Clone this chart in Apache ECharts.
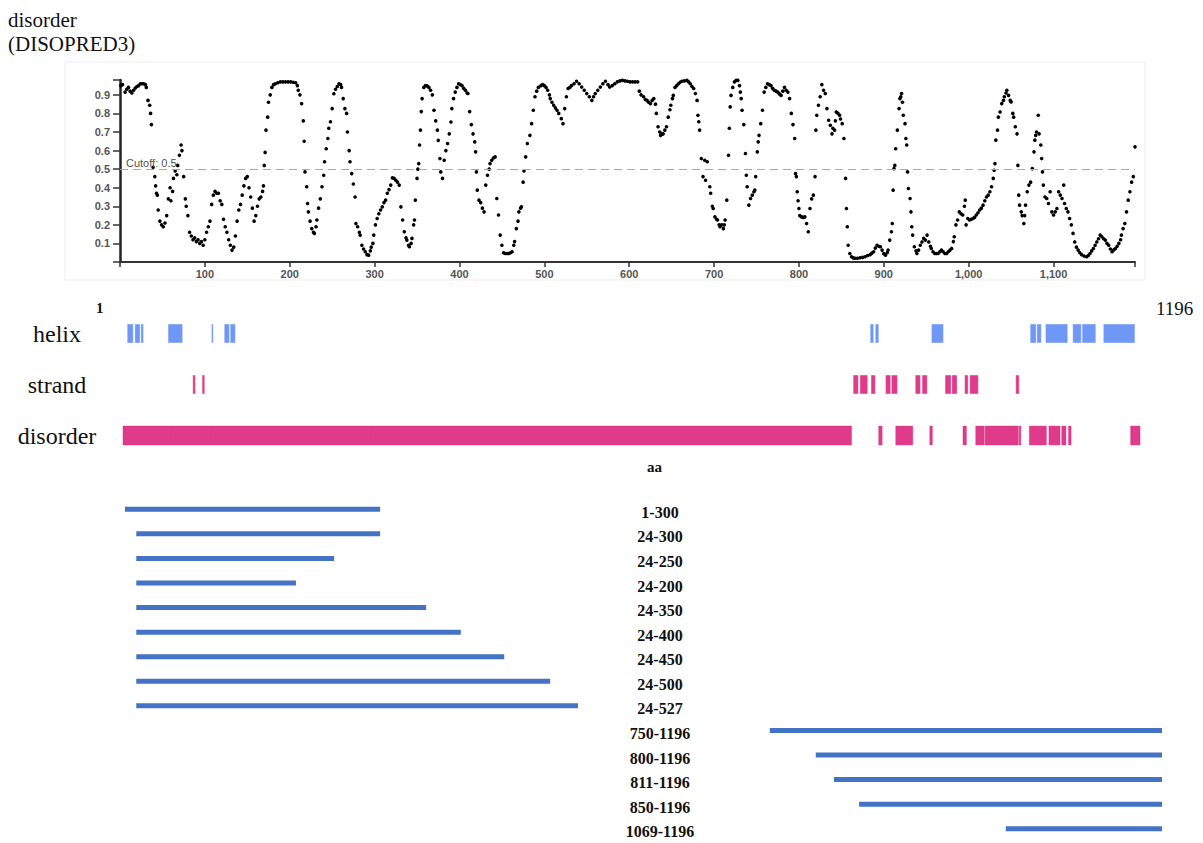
<!DOCTYPE html>
<html>
<head>
<meta charset="utf-8">
<title>disorder (DISOPRED3)</title>
<script src="https://cdn.jsdelivr.net/npm/echarts/dist/echarts.min.js"></script>
<style>
  html, body { margin: 0; padding: 0; background: #ffffff; }
  #chart { width: 1203px; height: 843px; }
</style>
</head>
<body>
<div id="chart"></div>
<script>
// DISOPRED3 disorder score per residue [residue, score]
var disorderScores = [
  [1,0.95],[3,0.955],[6,0.915],[8,0.93],[10,0.94],[12,0.92],[14,0.91],[16,0.925],[18,0.937],[20,0.945],
  [22,0.95],[24,0.96],[26,0.96],[28,0.96],[30,0.955],[31,0.94],[33,0.87],[35,0.844],[36,0.8],[37,0.74],
  [39,0.51],[41,0.46],[42,0.41],[43,0.37],[44,0.36],[45,0.28],[47,0.22],[49,0.2],[51,0.19],[53,0.21],
  [55,0.25],[57,0.34],[59,0.4],[60,0.33],[62,0.38],[63,0.45],[65,0.49],[67,0.47],[68,0.52],[70,0.575],
  [72,0.63],[73,0.6],[75,0.46],[77,0.34],[78,0.3],[80,0.25],[82,0.16],[84,0.14],[86,0.12],[88,0.13],
  [90,0.11],[92,0.12],[94,0.1],[96,0.11],[98,0.09],[100,0.12],[102,0.16],[104,0.19],[106,0.22],[108,0.31],
  [110,0.36],[112,0.38],[114,0.37],[116,0.37],[118,0.33],[120,0.31],[122,0.23],[124,0.19],[126,0.16],[128,0.12],
  [130,0.09],[132,0.064],[134,0.08],[136,0.14],[138,0.22],[140,0.28],[142,0.31],[144,0.36],[146,0.41],[148,0.45],
  [150,0.46],[152,0.4],[154,0.35],[156,0.29],[158,0.22],[160,0.25],[162,0.3],[164,0.34],[166,0.35],[168,0.38],
  [169,0.41],[170,0.52],[171,0.59],[172,0.71],[174,0.78],[175,0.86],[177,0.9],[179,0.94],[181,0.955],[183,0.96],
  [186,0.965],[189,0.97],[192,0.97],[195,0.97],[198,0.97],[201,0.97],[204,0.968],[207,0.965],[209,0.95],[210,0.925],
  [212,0.9],[214,0.853],[216,0.76],[217,0.65],[218,0.485],[220,0.405],[221,0.315],[222,0.27],[224,0.22],[226,0.18],
  [228,0.16],[229,0.154],[231,0.19],[232,0.226],[234,0.29],[236,0.34],[238,0.405],[240,0.467],[241,0.54],[243,0.61],
  [245,0.665],[246,0.72],[248,0.755],[250,0.826],[252,0.906],[254,0.93],[256,0.945],[258,0.96],[260,0.955],[261,0.94],
  [263,0.88],[265,0.826],[267,0.8],[268,0.7],[270,0.6],[271,0.54],[273,0.476],[275,0.42],[277,0.35],[278,0.207],
  [280,0.19],[282,0.16],[283,0.145],[285,0.09],[287,0.07],[289,0.055],[291,0.04],[293,0.037],[295,0.06],[296,0.08],
  [298,0.1],[299,0.145],[301,0.2],[303,0.234],[305,0.26],[307,0.28],[309,0.297],[311,0.32],[313,0.333],[315,0.37],
  [317,0.39],[319,0.414],[321,0.453],[323,0.45],[325,0.44],[327,0.43],[329,0.414],[331,0.297],[333,0.226],[335,0.163],
  [337,0.13],[338,0.118],[340,0.09],[341,0.082],[343,0.1],[344,0.127],[346,0.2],[347,0.226],[348,0.333],[350,0.45],
  [351,0.5],[352,0.53],[353,0.63],[354,0.71],[355,0.81],[356,0.88],[358,0.94],[360,0.95],[362,0.948],[364,0.94],
  [366,0.925],[368,0.9],[370,0.817],[372,0.76],[374,0.71],[375,0.655],[377,0.557],[378,0.485],[380,0.45],[382,0.548],
  [384,0.6],[386,0.638],[388,0.69],[390,0.754],[391,0.826],[393,0.88],[395,0.915],[397,0.94],[399,0.96],[401,0.955],
  [403,0.95],[405,0.935],[407,0.925],[409,0.91],[410,0.907],[412,0.81],[414,0.74],[416,0.69],[418,0.647],[419,0.593],
  [420,0.485],[421,0.387],[423,0.333],[425,0.32],[427,0.29],[429,0.27],[431,0.414],[433,0.467],[435,0.5],[436,0.53],
  [438,0.548],[440,0.56],[442,0.566],[444,0.342],[446,0.253],[448,0.145],[450,0.09],[452,0.05],[454,0.046],[456,0.046],
  [458,0.046],[460,0.05],[462,0.055],[464,0.09],[465,0.11],[467,0.18],[469,0.22],[470,0.27],[472,0.29],[473,0.297],
  [475,0.43],[476,0.49],[478,0.566],[480,0.638],[483,0.682],[485,0.745],[487,0.817],[489,0.89],[491,0.92],[493,0.94],
  [496,0.95],[498,0.955],[500,0.95],[502,0.94],[504,0.925],[506,0.9],[507,0.88],[509,0.86],[511,0.844],[513,0.83],
  [515,0.817],[517,0.8],[520,0.772],[522,0.745],[524,0.826],[526,0.89],[528,0.934],[530,0.94],[532,0.95],[535,0.96],
  [538,0.973],[541,0.96],[544,0.942],[547,0.925],[550,0.907],[553,0.89],[556,0.87],[558,0.89],[560,0.907],[563,0.925],
  [566,0.942],[569,0.96],[572,0.973],[575,0.955],[577,0.942],[580,0.95],[583,0.96],[586,0.97],[589,0.975],[592,0.978],
  [595,0.975],[598,0.973],[601,0.97],[604,0.97],[607,0.97],[610,0.97],[612,0.92],[614,0.9],[617,0.89],[619,0.875],
  [621,0.87],[623,0.86],[625,0.853],[627,0.87],[629,0.88],[631,0.85],[632,0.8],[634,0.728],[636,0.7],[637,0.682],
  [639,0.69],[640,0.69],[642,0.71],[644,0.728],[646,0.78],[648,0.82],[649,0.844],[651,0.88],[652,0.897],[654,0.94],
  [656,0.95],[658,0.96],[660,0.968],[662,0.973],[665,0.975],[668,0.978],[670,0.97],[672,0.96],[674,0.945],[676,0.934],
  [678,0.907],[680,0.87],[681,0.79],[682,0.755],[683,0.71],[685,0.557],[687,0.46],[689,0.548],[690,0.44],[692,0.54],
  [695,0.405],[696,0.37],[698,0.3],[699,0.288],[701,0.243],[703,0.23],[704,0.226],[706,0.2],[707,0.19],[709,0.2],
  [711,0.18],[712,0.2],[713,0.226],[715,0.333],[717,0.575],[718,0.72],[719,0.835],[720,0.897],[722,0.94],[724,0.97],
  [726,0.978],[728,0.978],[730,0.95],[731,0.915],[732,0.88],[733,0.817],[735,0.74],[737,0.584],[738,0.467],[739,0.405],
  [741,0.306],[743,0.342],[745,0.36],[747,0.378],[748,0.387],[749,0.46],[751,0.593],[752,0.647],[753,0.682],[755,0.745],
  [757,0.817],[759,0.915],[761,0.94],[763,0.96],[765,0.955],[767,0.95],[769,0.935],[771,0.925],[773,0.92],[775,0.915],
  [777,0.905],[779,0.897],[781,0.92],[783,0.94],[785,0.925],[787,0.915],[789,0.88],[791,0.8],[793,0.74],[795,0.665],
  [796,0.476],[797,0.46],[798,0.378],[799,0.33],[800,0.288],[801,0.25],[803,0.243],[805,0.24],[807,0.243],[809,0.207],
  [811,0.163],[813,0.288],[815,0.34],[817,0.36],[819,0.46],[820,0.71],[821,0.79],[823,0.844],[825,0.89],[827,0.955],
  [829,0.925],[831,0.907],[833,0.826],[835,0.763],[837,0.736],[839,0.69],[840,0.72],[842,0.71],[843,0.76],[844,0.808],
  [846,0.8],[848,0.79],[849,0.77],[851,0.745],[853,0.665],[855,0.45],[856,0.288],[857,0.19],[858,0.09],[860,0.046],
  [862,0.028],[864,0.022],[866,0.02],[869,0.02],[872,0.023],[875,0.025],[878,0.028],[881,0.035],[884,0.04],[886,0.048],
  [888,0.055],[890,0.075],[892,0.09],[894,0.085],[896,0.082],[898,0.064],[900,0.045],[902,0.037],[904,0.05],[905,0.064],
  [907,0.118],[909,0.163],[910,0.207],[911,0.387],[912,0.503],[913,0.52],[914,0.61],[916,0.71],[918,0.826],[919,0.88],
  [920,0.89],[921,0.907],[922,0.86],[923,0.79],[925,0.745],[926,0.665],[927,0.63],[928,0.485],[929,0.396],[931,0.342],
  [932,0.27],[933,0.19],[934,0.145],[936,0.082],[938,0.06],[939,0.046],[941,0.064],[943,0.09],[945,0.108],[947,0.127],
  [949,0.118],[951,0.145],[953,0.108],[955,0.085],[956,0.073],[958,0.055],[960,0.046],[962,0.046],[964,0.046],[966,0.055],
  [968,0.064],[970,0.055],[972,0.046],[974,0.046],[976,0.055],[978,0.064],[980,0.073],[982,0.11],[983,0.136],[985,0.2],
  [987,0.226],[989,0.27],[991,0.26],[993,0.253],[995,0.3],[996,0.333],[997,0.2],[999,0.234],[1001,0.226],[1003,0.23],
  [1005,0.234],[1007,0.24],[1009,0.253],[1011,0.265],[1013,0.28],[1015,0.29],[1017,0.306],[1019,0.33],[1021,0.35],[1023,0.36],
  [1025,0.378],[1027,0.405],[1029,0.45],[1030,0.494],[1031,0.53],[1032,0.656],[1034,0.71],[1035,0.78],[1037,0.808],[1039,0.853],
  [1041,0.87],[1042,0.89],[1044,0.91],[1045,0.925],[1047,0.897],[1049,0.87],[1050,0.862],[1052,0.8],[1053,0.78],[1055,0.728],
  [1057,0.69],[1058,0.52],[1059,0.36],[1060,0.306],[1062,0.27],[1063,0.25],[1065,0.207],[1066,0.25],[1067,0.306],[1069,0.378],
  [1071,0.414],[1073,0.43],[1075,0.503],[1077,0.593],[1078,0.656],[1079,0.682],[1080,0.7],[1082,0.79],[1083,0.69],[1085,0.63],
  [1086,0.557],[1087,0.485],[1088,0.414],[1090,0.35],[1092,0.342],[1094,0.315],[1096,0.378],[1098,0.27],[1100,0.253],[1102,0.27],
  [1104,0.288],[1106,0.378],[1108,0.36],[1110,0.342],[1112,0.414],[1113,0.315],[1115,0.288],[1117,0.27],[1119,0.234],[1121,0.2],
  [1123,0.154],[1125,0.108],[1127,0.08],[1129,0.064],[1131,0.05],[1133,0.04],[1136,0.032],[1139,0.028],[1141,0.035],[1143,0.046],
  [1145,0.06],[1147,0.073],[1149,0.09],[1151,0.108],[1153,0.125],[1155,0.145],[1157,0.136],[1159,0.125],[1161,0.118],[1163,0.1],
  [1165,0.09],[1167,0.07],[1169,0.055],[1171,0.065],[1173,0.073],[1175,0.085],[1177,0.1],[1179,0.12],[1180,0.145],[1182,0.18],
  [1184,0.207],[1186,0.27],[1188,0.333],[1190,0.378],[1192,0.43],[1194,0.46],[1196,0.62]
];
var cutoff = 0.5;
var seqLength = 1196;

// secondary structure / disorder tracks, [start, end] residues
var trackNames = ['helix', 'strand', 'disorder'];
var helixSegments = [
  [6,13],[15,21],[22,25],[54,71],[105,107],[120,126],[127,133],
  [879,883],[885,889],[951,965],[1067,1074],[1075,1080],[1085,1111],[1117,1127],[1128,1144],[1153,1190]
];
var strandSegments = [
  [83,86],[94,97],[859,865],[867,876],[880,885],[897,903],[904,911],[932,938],[940,946],
  [967,974],[975,981],[990,994],[996,1006],[1050,1054]
];
var disorderSegments = [
  [1,56],[56,103],[103,291],[291,857],[889,893],[909,929],[949,952],[988,992],[1003,1013],[1014,1053],
  [1054,1056],[1066,1086],[1089,1102],[1104,1109],[1112,1115],[1185,1188],[1188,1196]
];

// expression constructs: label and drawn extent of each bar
var constructLabels = ['1-300','24-300','24-250','24-200','24-350','24-400','24-450','24-500','24-527',
  '750-1196','800-1196','811-1196','850-1196','1069-1196'];
var constructStart = [1,14,14,14,14,14,14,14,14,744,797,818,847,1016];
var constructEnd = [295,295,242,198,348,388,438,491,523,1196,1196,1196,1196,1196];

var chart = echarts.init(document.getElementById('chart'), null, { renderer: 'svg' });

function segmentRenderer(heightRatio, strokeColor) {
  return function (params, api) {
    var p0 = api.coord([api.value(0), api.value(2)]);
    var p1 = api.coord([api.value(1), api.value(2)]);
    var h = api.size([0, 1])[1] * heightRatio;
    return {
      type: 'rect',
      shape: { x: p0[0], y: p0[1] - h / 2, width: Math.max(p1[0] - p0[0], 1.6), height: h },
      style: { fill: api.visual('color'), stroke: strokeColor, lineWidth: 0.6 }
    };
  };
}

function toTrack(list, row) {
  return list.map(function (s) { return [s[0], s[1], row]; });
}

var constructData = constructLabels.map(function (l, i) {
  return [constructStart[i], constructEnd[i], i];
});

var serif = 'Liberation Serif';
var sans = 'Liberation Sans';

var option = {
  backgroundColor: '#ffffff',
  animation: false,
  graphic: [
    { type: 'rect', z: -1, shape: { x: 65, y: 62, width: 1080, height: 218 },
      style: { fill: 'none', stroke: '#ededed', lineWidth: 1 } },
    { type: 'text', left: 8, top: 8,
      style: { text: 'disorder\n(DISOPRED3)', font: '21px "' + serif + '"', fill: '#111', lineHeight: 24 } },
    { type: 'text', left: 96, top: 300,
      style: { text: '1', font: 'bold 15px "' + serif + '"', fill: '#111' } },
    { type: 'text', left: 1156, top: 299,
      style: { text: '1196', font: '19px "' + serif + '"', fill: '#111' } },
    { type: 'text', left: 647, top: 459,
      style: { text: 'aa', font: 'bold 15px "' + serif + '"', fill: '#111' } }
  ],
  grid: [
    { left: 120, width: 1015, top: 80, height: 182 },
    { left: 123, width: 1017, top: 308, height: 153 },
    { left: 125, width: 1037, top: 497, height: 344 }
  ],
  xAxis: [
    {
      gridIndex: 0, type: 'value', min: 0, max: seqLength, interval: 100,
      splitLine: { show: false },
      axisLine: { lineStyle: { color: '#333', width: 2 } },
      axisTick: { length: 5, lineStyle: { color: '#333', width: 1.5 } },
      axisLabel: {
        color: '#555', fontFamily: sans, fontWeight: 'bold', fontSize: 11, margin: 6,
        formatter: function (v) {
          if (v <= 0 || v >= seqLength) return '';
          return v >= 1000 ? Math.floor(v / 1000) + ',' + String(v % 1000).padStart(3, '0') : String(v);
        }
      }
    },
    { gridIndex: 1, type: 'value', min: 1, max: seqLength, show: false },
    { gridIndex: 2, type: 'value', min: 1, max: seqLength, show: false }
  ],
  yAxis: [
    {
      gridIndex: 0, type: 'value', min: 0, max: 0.98, interval: 0.1,
      splitLine: { show: false },
      axisLine: { show: true, lineStyle: { color: '#222', width: 2.5 } },
      axisTick: { show: true, length: 7, lineStyle: { color: '#333', width: 1.5 } },
      axisLabel: {
        color: '#555', fontFamily: sans, fontWeight: 'bold', fontSize: 11, margin: 10,
        formatter: function (v) { return (v <= 0 || v > 0.95) ? '' : v.toFixed(1); }
      }
    },
    {
      gridIndex: 1, type: 'category', data: trackNames, inverse: true,
      axisLine: { show: false }, axisTick: { show: false },
      axisLabel: { color: '#111', fontFamily: serif, fontSize: 24, align: 'center', margin: 66 }
    },
    {
      gridIndex: 2, type: 'category', data: constructLabels, inverse: true,
      offset: -535,
      axisLine: { show: false }, axisTick: { show: false },
      axisLabel: { color: '#111', fontFamily: serif, fontWeight: 'bold', fontSize: 16, align: 'center',
        margin: 0, verticalAlign: 'top', lineHeight: 16, padding: [-5, 0, 0, 0] }
    }
  ],
  series: [
    {
      name: 'disorder score', type: 'scatter', xAxisIndex: 0, yAxisIndex: 0,
      data: disorderScores, symbolSize: 3.6,
      itemStyle: { color: '#000', opacity: 1 },
      markLine: {
        silent: true, symbol: 'none',
        lineStyle: { color: '#a8a8a8', type: [8, 5], width: 1.2 },
        label: { position: 'insideStartTop', formatter: 'Cutoff: ' + cutoff, color: '#555',
          fontFamily: sans, fontSize: 11, distance: [6, 1] },
        data: [{ yAxis: cutoff }]
      }
    },
    {
      name: 'helix', type: 'custom', xAxisIndex: 1, yAxisIndex: 1,
      renderItem: segmentRenderer(0.37, 'rgba(255,255,255,0.5)'),
      encode: { x: [0, 1], y: 2 },
      itemStyle: { color: '#6f97f6' },
      data: toTrack(helixSegments, 0)
    },
    {
      name: 'strand', type: 'custom', xAxisIndex: 1, yAxisIndex: 1,
      renderItem: segmentRenderer(0.37, 'rgba(255,255,255,0.5)'),
      encode: { x: [0, 1], y: 2 },
      itemStyle: { color: '#e03a8a' },
      data: toTrack(strandSegments, 1)
    },
    {
      name: 'disorder', type: 'custom', xAxisIndex: 1, yAxisIndex: 1,
      renderItem: segmentRenderer(0.37, 'rgba(214,40,120,0.7)'),
      encode: { x: [0, 1], y: 2 },
      itemStyle: { color: '#e03a8a' },
      data: toTrack(disorderSegments, 2)
    },
    {
      name: 'constructs', type: 'custom', xAxisIndex: 2, yAxisIndex: 2,
      renderItem: function (params, api) {
        var p0 = api.coord([api.value(0), api.value(2)]);
        var p1 = api.coord([api.value(1), api.value(2)]);
        return {
          type: 'rect',
          shape: { x: p0[0], y: p0[1] - 2.5, width: p1[0] - p0[0], height: 5 },
          style: { fill: api.visual('color') }
        };
      },
      encode: { x: [0, 1], y: 2 },
      itemStyle: { color: '#4472c4' },
      data: constructData
    }
  ]
};

chart.setOption(option);
</script>
</body>
</html>
